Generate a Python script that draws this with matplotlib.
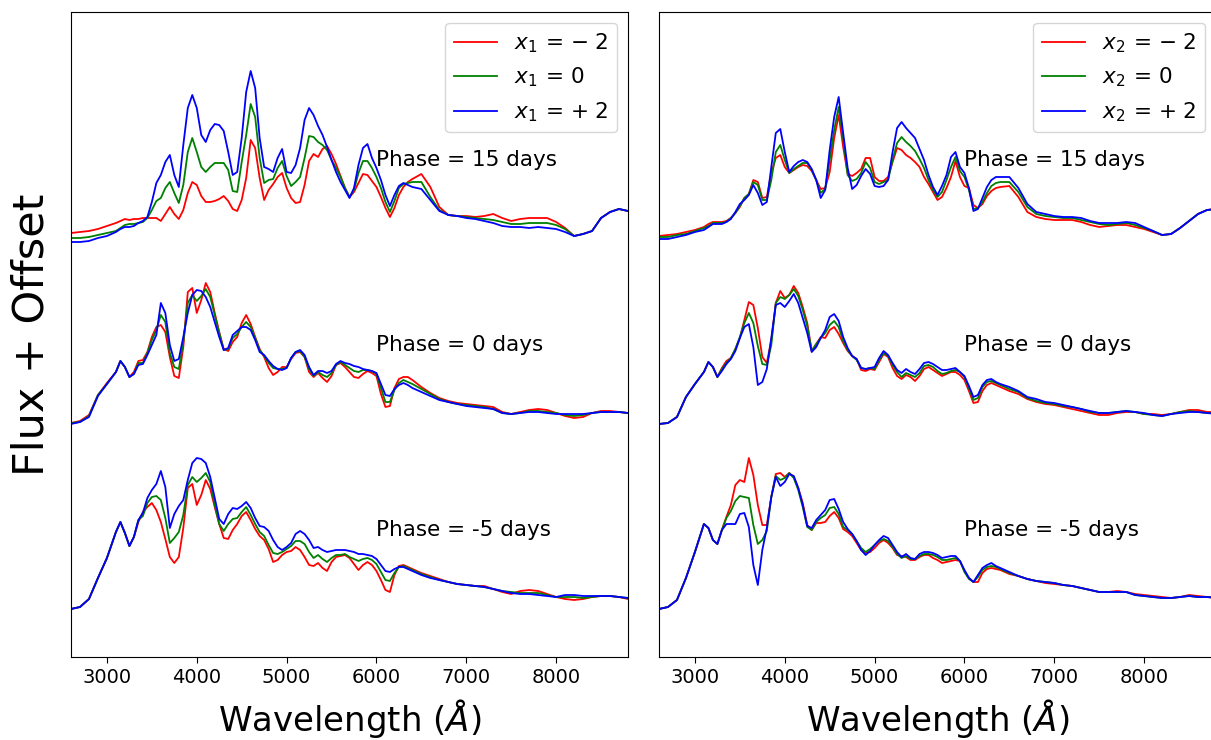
import numpy as np
import matplotlib
matplotlib.use("Agg")
import matplotlib.pyplot as plt

# ---------------- data ----------------
wavelength = np.array([2600, 2700, 2800, 2900, 3000, 3100]
                      + list(range(3150, 6401, 50))
                      + list(range(6500, 8801, 100)), dtype=float)

phases = [15, 0, -5]
phase_offsets = [3.70, 1.85, 0.0]
param_values = [r"{-}\;2", "0", r"{+}\;2"]
colors = ["red", "green", "blue"]

# flux in units of 0.01 (arbitrary), left panel: x1 variations
x1_p15_m2 = [54,55,56,58,61,64,66,68,67,68, 68,69,69,69,69,66,73,80,73,68, 77,94,105,102,91,85,85,86,88,91,
             86,78,76,87,109,147,139,109,87,97, 103,110,114,99,89,84,85,102,126,133, 130,138,141,133,123,111,99,90,95,104,113,112,
             106,100,90,79,70,79,92,100,105,108, 113,100,80,72,71,71,70,71,73,69,66,68,69,69,69,65,59,51,53,56,69,75,78,76]
x1_p15_0 = [49,49,50,52,54,56,59,62,63,63, 64,65,69,77,86,89,99,105,94,84, 102,135,149,135,120,115,120,124,124,124,
            117,96,95,125,152,183,170,129,104,107, 108,119,126,111,101,105,110,129,151,150, 145,142,137,127,119,110,99,90,97,114,126,126,
            119,110,99,85,75,86,99,103,104,105, 105,90,77,72,71,70,69,68,67,65,63,63,64,64,64,62,58,51,53,56,69,75,78,76]
x1_p15_p2 = [45,45,46,49,51,55,58,60,60,61, 64,66,70,85,104,112,125,132,112,100, 142,179,192,179,152,145,157,163,162,156,
             135,112,115,149,195,216,199,149,120,118, 115,129,138,115,114,122,139,167,179,172, 161,152,140,127,115,105,97,89,99,122,139,143,
             129,119,107,92,81,92,101,104,102,100, 98,87,76,72,71,69,68,66,64,61,60,60,59,60,59,58,55,51,53,56,69,75,78,76]

x1_p0_m2 = [49,51,57,77,89,100,111,105,95,100, 111,112,120,135,145,147,140,115,96,94, 125,180,184,159,172,189,180,159,140,123,
            121,130,135,149,157,148,135,123,115,104, 97,100,105,105,113,119,120,115,100,95, 99,94,90,96,107,109,105,100,95,94,98,101,
            99,96,78,65,66,84,93,95,95,92, 85,79,74,71,69,68,67,66,65,60,58,60,62,63,62,59,56,54,55,59,61,61,60,59]
x1_p0_0 = [49,50,56,77,88,100,111,105,95,98, 109,109,119,132,142,157,150,119,105,103, 130,169,177,171,176,183,175,157,139,122,
           123,134,138,145,150,145,134,122,116,109, 104,103,103,104,114,120,121,115,103,96, 100,97,95,99,107,110,107,104,101,100,102,102,
           101,98,84,70,70,82,89,92,90,88, 83,78,73,70,68,67,66,65,63,59,58,59,61,61,60,59,57,56,57,59,60,60,60,59]
x1_p0_p2 = [48,50,55,76,88,100,111,105,95,98, 107,108,117,127,137,169,159,127,111,113, 135,159,177,182,181,175,165,150,135,122,
            124,137,141,145,145,142,132,120,117,111, 106,103,102,104,114,120,122,117,105,97, 101,101,99,101,108,111,109,108,106,105,103,102,
            101,99,88,77,76,83,87,89,87,84, 80,76,72,70,68,66,65,64,63,59,58,59,60,60,59,58,58,58,58,59,60,60,60,59]

x1_pm5_m2 = [48,50,58,79,99,125,135,124,111,120, 135,145,150,154,147,135,118,100,94,100, 129,169,173,152,162,177,168,150,133,119,
             118,127,133,141,145,137,128,121,117,108, 95,97,102,105,106,110,107,100,92,91, 94,89,86,95,100,101,102,99,93,87,92,95,
             92,86,77,67,65,82,91,92,90,88, 84,81,78,75,73,72,71,71,68,65,63,66,67,66,63,60,58,57,58,60,61,61,60,58]
x1_pm5_0 = [48,50,58,79,99,125,135,124,111,120, 137,141,154,160,161,157,139,114,119,125, 142,172,180,175,179,184,175,152,133,126,
            133,138,139,145,150,142,133,125,121,112, 104,103,105,108,111,116,116,113,105,99, 102,98,95,99,102,102,103,100,98,96,98,99,
            97,93,85,77,76,84,90,91,89,87, 83,80,77,75,73,72,71,70,68,66,65,64,64,64,62,60,60,60,59,60,61,61,60,59]
x1_pm5_p2 = [48,50,58,79,99,125,135,124,111,120, 137,144,159,167,173,186,170,129,143,151, 157,177,194,199,198,194,180,159,138,133,
             143,149,148,151,155,149,139,131,130,126, 117,110,107,110,114,123,126,123,117,109, 110,107,105,106,107,107,107,106,105,103,103,102,
             101,98,92,86,85,88,90,90,88,86, 82,79,77,75,73,72,71,70,68,66,64,63,63,62,61,60,62,62,61,61,61,61,60,59]

# right panel: x2 variations
x2_p15_m2 = [51,52,53,55,57,60,63,65,65,65, 66,69,74,80,89,93,107,105,89,90, 114,129,132,120,114,117,120,122,121,116,
             107,98,99,115,149,172,140,113,111,114, 118,129,129,110,106,106,110,125,139,137, 132,129,125,120,110,103,95,87,90,99,110,126,
             110,101,99,82,79,83,91,96,99,100, 101,90,75,70,68,67,67,67,65,62,60,61,62,62,60,58,55,52,53,59,66,73,77,78]
x2_p15_0 = [50,50,52,53,56,59,61,64,64,64, 65,69,74,81,89,93,105,102,87,87, 107,135,142,127,114,118,121,124,124,117,
            107,94,98,127,157,180,149,112,106,108, 114,125,119,105,103,105,107,127,144,150, 145,141,136,128,119,107,97,90,95,107,120,130,
            116,110,97,78,79,85,94,101,104,105, 105,95,80,73,71,70,69,69,67,65,63,62,63,64,62,59,56,52,53,59,66,73,77,78]
x2_p15_p2 = [48,48,50,52,55,57,60,63,63,63, 65,68,75,83,87,92,102,94,82,85, 120,154,158,135,115,121,125,127,125,118,
             107,89,97,137,170,190,154,119,98,102, 111,118,113,101,100,101,107,135,159,165, 159,154,149,138,127,112,100,92,101,112,130,135,
             120,114,99,76,78,89,100,107,110,110, 110,99,83,75,73,71,70,70,69,66,64,64,64,65,64,60,56,52,53,59,66,73,77,78]

x2_p0_m2 = [48,49,55,75,88,100,110,105,95,104, 111,114,123,134,152,170,167,144,115,109, 132,169,181,174,177,186,179,165,149,121,
            128,135,134,142,145,138,129,121,116,113, 102,101,103,102,110,118,115,104,96,93, 97,95,91,96,103,105,102,99,96,98,100,100,
            97,92,81,69,70,81,87,89,87,85, 81,78,73,70,68,67,65,63,61,59,57,57,59,60,60,58,58,57,58,60,62,62,60,60]
x2_p0_0 = [48,49,55,75,88,100,110,105,95,103, 109,114,123,135,149,159,149,126,108,107, 127,169,175,173,177,183,176,162,146,121,
           128,134,139,147,151,145,131,122,116,112, 104,103,104,103,112,119,116,107,100,95, 99,97,95,99,106,107,105,101,98,99,101,102,
           100,95,84,72,74,85,90,91,89,87, 83,80,74,71,69,68,66,65,63,60,59,59,60,61,60,58,57,56,58,60,61,60,59,59]
x2_p0_p2 = [48,49,55,75,88,100,110,105,95,101, 108,113,121,134,145,148,125,87,90,103, 134,167,169,165,171,178,169,154,139,120,
            125,134,142,155,158,151,135,124,116,113, 104,103,104,105,114,121,117,109,102,99, 103,100,98,103,109,110,108,105,102,102,103,104,
            100,96,86,75,77,87,92,93,90,88, 85,81,75,73,70,69,67,65,63,61,59,59,60,61,60,59,57,56,58,59,60,60,59,58]

x2_pm5_m2 = [48,50,57,79,105,133,129,117,113,127, 140,152,172,177,175,199,182,152,132,132, 160,183,184,180,184,180,169,154,132,127,
             134,134,135,141,145,139,128,125,121,114, 107,104,105,109,114,117,114,109,102,101, 100,97,97,100,102,102,99,97,94,95,96,97,
             96,86,79,75,75,84,88,89,88,87, 83,81,78,76,74,73,72,71,69,67,65,65,66,65,63,62,61,60,59,60,62,61,60,60]
x2_pm5_0 = [48,50,57,79,105,133,129,117,113,127, 139,146,156,161,160,159,132,113,117,126, 160,181,177,179,184,179,167,150,130,127,
            135,139,142,149,150,143,130,127,123,116, 109,105,108,112,116,118,116,110,103,99, 101,98,98,101,103,103,102,100,97,97,98,99,
            96,85,78,75,80,87,90,91,90,88, 84,81,78,76,75,74,72,71,69,67,65,65,65,65,62,61,60,59,59,60,61,60,60,59]
x2_pm5_p2 = [48,50,57,79,105,133,129,117,113,127, 133,133,133,143,144,130,92,72,107,129, 160,180,171,175,183,181,169,152,131,129,
             137,142,147,157,158,148,135,128,123,116, 107,102,106,112,117,121,119,112,105,100, 103,99,98,103,105,105,104,102,99,100,101,101,
             96,87,79,75,82,89,92,94,91,89, 85,81,78,76,75,74,72,71,69,67,65,65,65,65,62,61,60,59,59,60,61,60,60,59]

panels = [
    ("x_1", [[x1_p15_m2, x1_p15_0, x1_p15_p2],
             [x1_p0_m2, x1_p0_0, x1_p0_p2],
             [x1_pm5_m2, x1_pm5_0, x1_pm5_p2]]),
    ("x_2", [[x2_p15_m2, x2_p15_0, x2_p15_p2],
             [x2_p0_m2, x2_p0_0, x2_p0_p2],
             [x2_pm5_m2, x2_pm5_0, x2_pm5_p2]]),
]

FLUX_UNIT = 0.01
label_height = 1.27  # label position above each offset

# ---------------- figure ----------------
W, H = 1211, 740
fig = plt.figure(figsize=(W / 100, H / 100), dpi=100)
ax_bottom = (740 - 657) / H
ax_height = (657 - 12) / H
ax_width = (628 - 71) / W
lefts = [71 / W, 659 / W]

for (pname, groups), left in zip(panels, lefts):
    ax = fig.add_axes([left, ax_bottom, ax_width, ax_height])
    for gi, (phase, off) in enumerate(zip(phases, phase_offsets)):
        for ci, (series, col, pv) in enumerate(zip(groups[gi], colors, param_values)):
            flux = np.array(series, dtype=float) * FLUX_UNIT
            ax.plot(wavelength, flux + off, color=col, lw=1.3,
                    label=(r"$%s\,=\,%s$" % (pname, pv)) if gi == 0 else None)
        ax.text(6000, off + label_height, "Phase = %d days" % phase,
                fontsize=15.5, va="center", ha="left")
    ax.set_xlim(2600, 8800)
    ax.set_ylim(0, 6.45)
    ax.set_yticks([])
    ax.set_xticks([3000, 4000, 5000, 6000, 7000, 8000])
    ax.tick_params(axis="x", labelsize=14, length=4.5)
    ax.set_xlabel(r"Wavelength ($\AA$)", fontsize=24.5, labelpad=7)
    ax.legend(loc="upper right", fontsize=15.5)
    if left == lefts[0]:
        ax.set_ylabel("Flux + Offset", fontsize=31)
        ax.yaxis.set_label_coords(-0.033, 0.5)

fig.savefig("out.png", dpi=100)
